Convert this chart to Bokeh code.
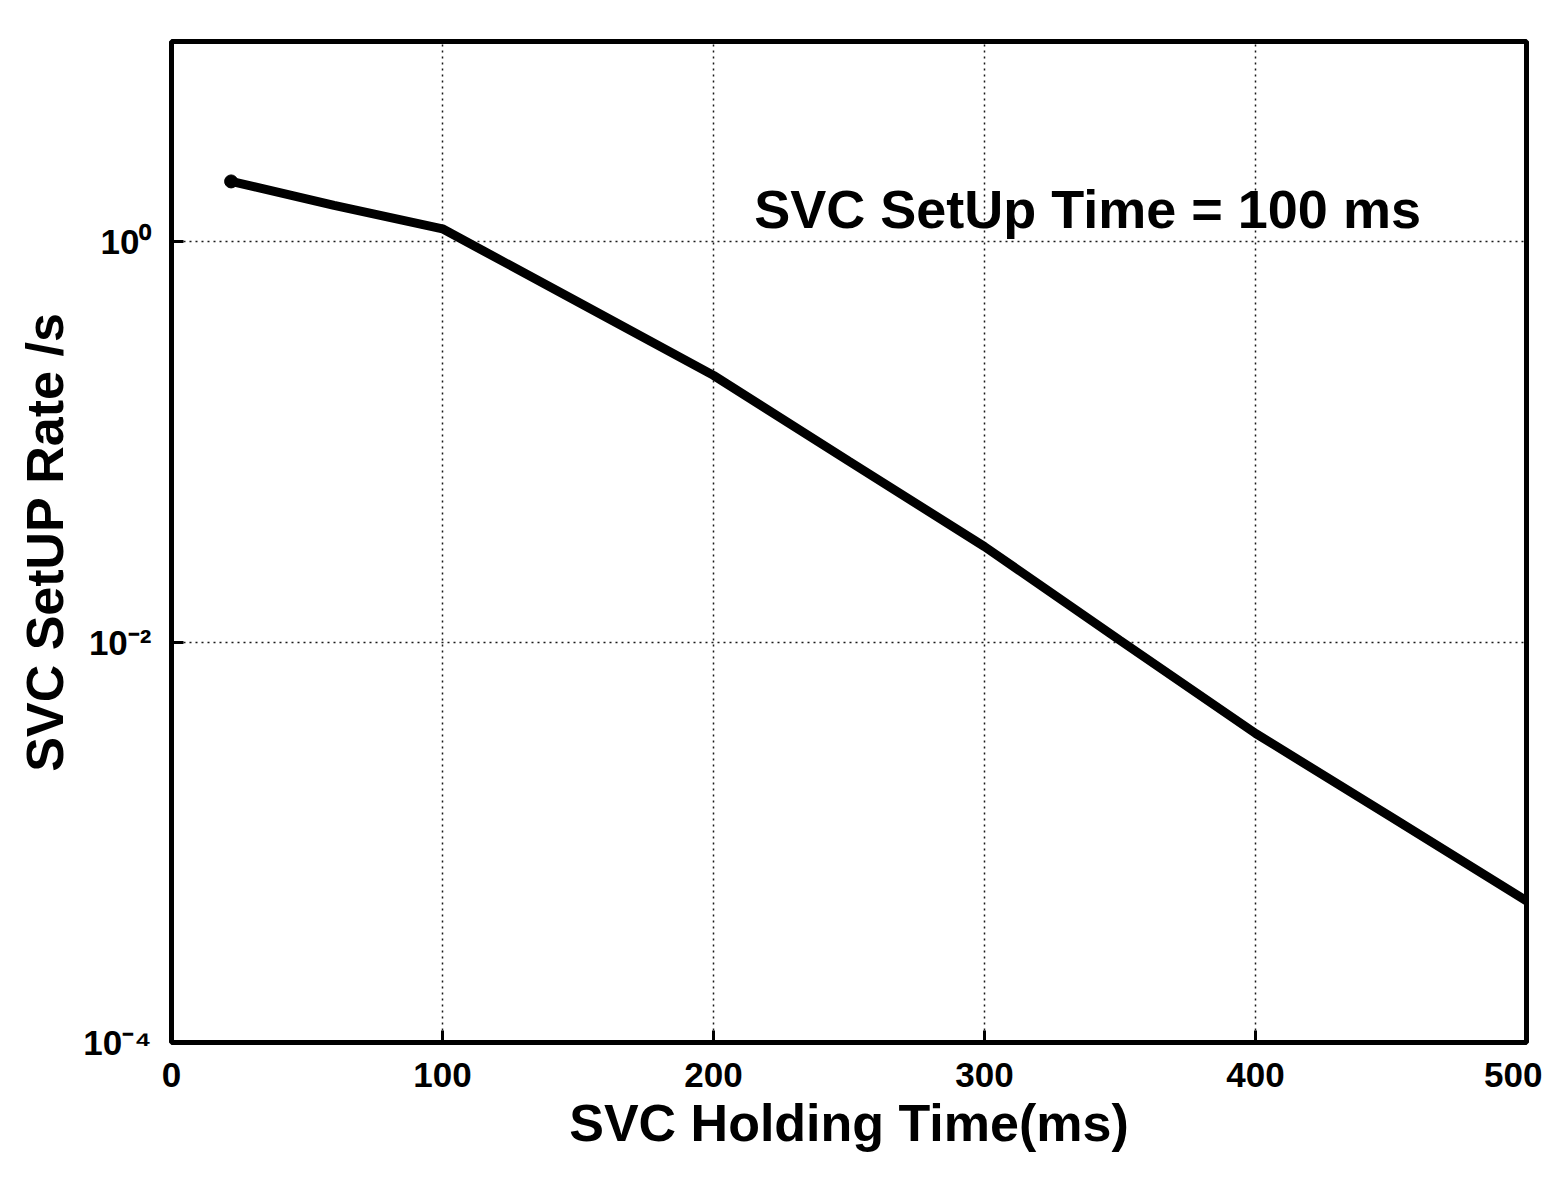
from bokeh.plotting import figure
from bokeh.models import FixedTicker, Label
from bokeh.embed import file_html
from bokeh.resources import INLINE

# Data
holding_time_ms = [22, 60, 100, 150, 200, 250, 300, 350, 400, 450, 500]
setup_rate = [2.0, 1.52, 1.16, 0.50, 0.215, 0.080, 0.030, 0.0102, 0.0035, 0.00134, 0.00051]

x_ticks = [0, 100, 200, 300, 400, 500]
y_ticks = [1e-4, 1e-2, 1e0]
y_tick_labels = {1e-4: "10\u207b\u2074", 1e-2: "10\u207b\u00b2", 1e0: "10\u2070"}

FONT = "Liberation Sans"

p = figure(width=1542, height=1170, y_axis_type="log",
           x_range=(0, 500), y_range=(1e-4, 10),
           output_backend="svg", toolbar_location=None,
           min_border_left=171, min_border_right=16,
           min_border_top=41, min_border_bottom=128)

p.line(holding_time_ms, setup_rate, line_color="black", line_width=9)
p.scatter(holding_time_ms[:1], setup_rate[:1], size=13, color="black")

p.xaxis.ticker = FixedTicker(ticks=x_ticks)
p.yaxis.ticker = FixedTicker(ticks=y_ticks)
p.yaxis.major_label_overrides = y_tick_labels
p.xaxis.minor_tick_line_color = None
p.yaxis.minor_tick_line_color = None

for ax in (p.xaxis[0], p.yaxis[0]):
    ax.axis_line_color = None
    ax.major_tick_in = 12
    ax.major_tick_out = 0
    ax.major_tick_line_width = 3
    ax.major_tick_line_color = "black"
    ax.major_label_text_font = FONT
    ax.major_label_text_font_style = "bold"
    ax.major_label_text_font_size = "35px"
    ax.major_label_text_color = "black"
    ax.axis_label_text_font = FONT
    ax.axis_label_text_font_style = "bold"
    ax.axis_label_text_font_size = "52px"
    ax.axis_label_text_color = "black"

p.xaxis.axis_label = "SVC Holding Time(ms)"
p.yaxis.axis_label = "SVC SetUP Rate /s"
p.xaxis.major_label_standoff = 20
p.xaxis.axis_label_standoff = 4
p.yaxis.major_label_standoff = 20
p.yaxis.axis_label_standoff = 6

p.xgrid.ticker = FixedTicker(ticks=[100, 200, 300, 400])
p.ygrid.ticker = FixedTicker(ticks=[1e-2, 1e0])
for g in (p.xgrid[0], p.ygrid[0]):
    g.grid_line_color = "black"
    g.grid_line_dash = "2 4"
    g.grid_line_width = 1.5
    g.grid_line_alpha = 0.9

p.outline_line_color = "black"
p.outline_line_width = 5
p.background_fill_color = "white"
p.border_fill_color = "white"

p.add_layout(Label(x=215, y=1.45, text="SVC SetUp Time = 100 ms",
                   text_font=FONT, text_font_style="bold",
                   text_font_size="54px", text_baseline="middle",
                   text_color="black"))

open("out.html", "w").write(file_html(p, INLINE))
